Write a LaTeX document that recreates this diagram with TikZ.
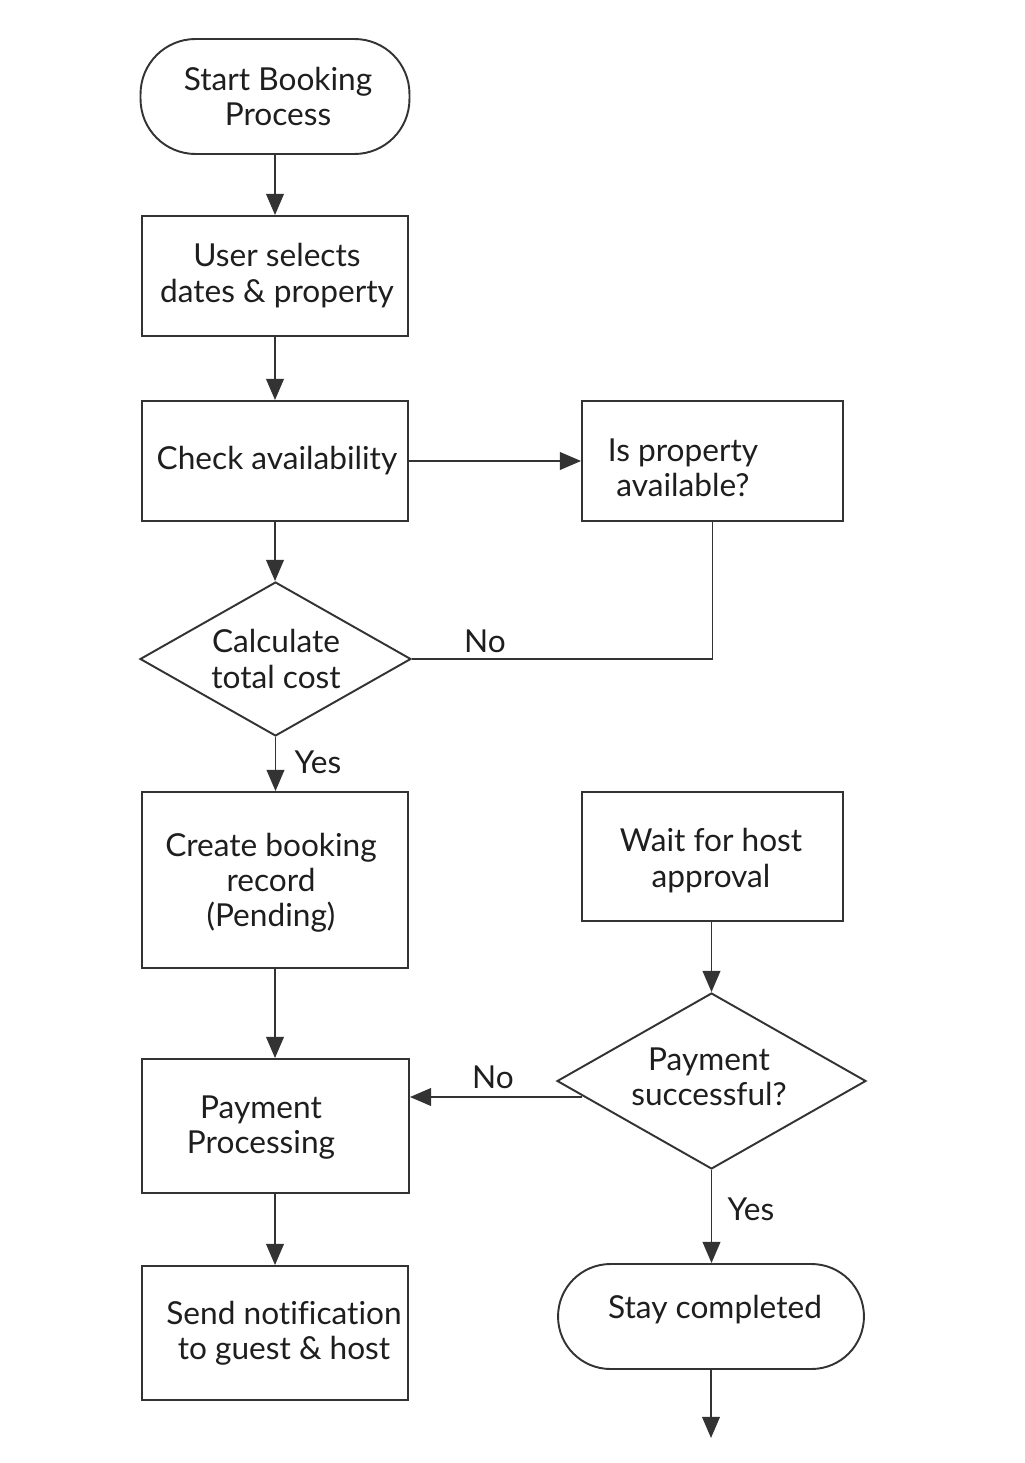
\documentclass[tikz,border=0pt]{standalone}
\usepackage{fontspec}
\setmainfont[Ligatures=NoCommon]{Lato}
\usetikzlibrary{shapes.geometric,arrows.meta}
\definecolor{ink}{HTML}{333333}
\definecolor{txt}{HTML}{1E1E1E}
\tikzset{
  base/.style={draw=ink, line width=1.1pt, text=txt, align=center, inner sep=0pt,
    font=\fontsize{18}{20}\selectfont},
  stepbox/.style={base, rectangle, minimum width=5.32cm, minimum height=2.4cm},
  term/.style={base, rectangle, rounded corners=1.1cm},
  decision/.style={base, diamond},
  plain/.style={text=txt, align=center, inner sep=0pt, font=\fontsize{18}{20}\selectfont},
  arr/.style={draw=ink, line width=1.1pt, -{Triangle[length=12pt,width=10pt]}},
  conn/.style={draw=ink, line width=1.1pt},
}
\begin{document}
\begin{tikzpicture}[x=0.02cm, y=-0.02cm]
\useasboundingbox[fill=white] (0,0) rectangle (1024,1463);
% nodes
\node[term, minimum width=5.38cm, minimum height=2.3cm] (start) at (275,96.5) {};
\node[plain] (start-t) at (278,96.5) {Start Booking\\Process};
\node[stepbox] (sel) at (275,276) {};
\node[plain] (sel-t) at (277,275.5) {User selects\\dates \& property};
\node[stepbox] (check) at (275,461) {};
\node[plain] (check-t) at (277,461) {Check availability};
\node[stepbox, minimum width=5.22cm] (avail) at (712.5,461) {};
\node[plain] (avail-t) at (683,467.5) {Is property\\available?};
\node[decision, minimum width=5.42cm, minimum height=3.08cm] (calc) at (275.5,659) {};
\node[plain] (calc-t) at (276,659) {Calculate\\total cost};
\node[stepbox, minimum height=3.52cm] (create) at (275,880) {};
\node[plain] (create-t) at (271,883) {Create booking\\record\\(Pending)};
\node[stepbox, minimum width=5.34cm, minimum height=2.68cm] (pp) at (275.5,1126) {};
\node[plain] (pp-t) at (261,1127.5) {Payment\\Processing};
\node[stepbox, minimum height=2.68cm] (send) at (275,1333) {};
\node[plain] (send-t) at (284,1333.5) {Send notification\\to guest \& host};
\node[stepbox, minimum width=5.22cm, minimum height=2.58cm] (wait) at (712.5,856.5) {};
\node[plain] (wait-t) at (711,860.5) {Wait for host\\approval};
\node[decision, minimum width=6.18cm, minimum height=3.52cm] (ps) at (711.5,1081) {};
\node[plain] (ps-t) at (709,1076.5) {Payment\\successful?};
\node[term, minimum width=6.12cm, minimum height=2.1cm, rounded corners=1.05cm] (stay) at (711,1316.5) {};
\node[plain] (stay-t) at (715,1310) {Stay completed};
\coordinate (end) at (711,1438);
% connectors
\draw[arr] (start.south) -- (sel.north);
\draw[arr] (sel.south) -- (check.north);
\draw[arr] (check.east) -- (avail.west);
\draw[arr] (check.south) -- (check.south |- calc.north);
\draw[conn] (avail.south) |- (calc.east);
\draw[arr] (calc.south) -- (calc.south |- create.north);
\draw[arr] (create.south) -- (create.south |- pp.north);
\draw[arr] (pp.south -| send.north) -- (send.north);
\draw[arr] (ps.north |- wait.south) -- (ps.north);
\draw[arr] ([shift={(26,16)}]ps.west) coordinate (nofrom) -- (nofrom -| pp.east);
\draw[arr] (ps.south) -- (ps.south |- stay.north);
\draw[arr] (stay.south) -- (end);
% labels
\node[plain] (no1) at (485,641) {No};
\node[plain] (yes1) at (318,762) {Yes};
\node[plain] (no2) at (493,1077) {No};
\node[plain] (yes2) at (751,1209) {Yes};
\end{tikzpicture}
\end{document}
